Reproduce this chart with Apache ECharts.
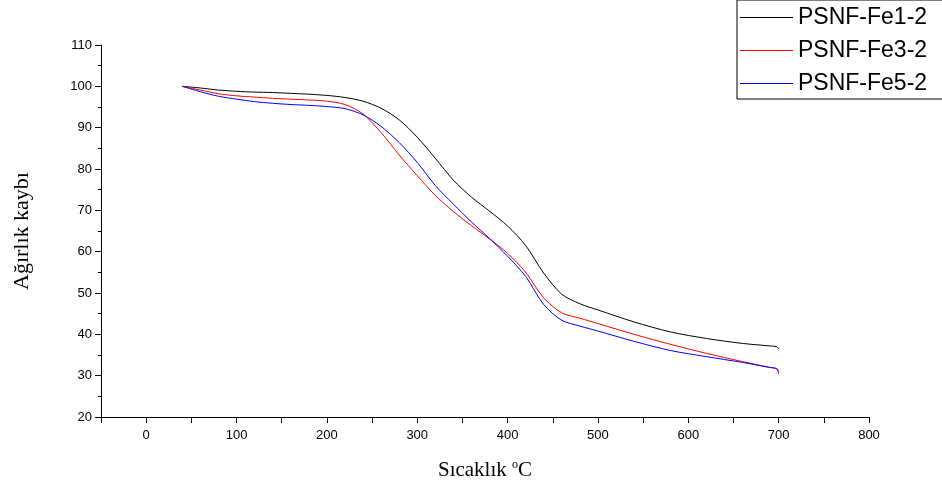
<!DOCTYPE html>
<html>
<head>
<meta charset="utf-8">
<script src="https://cdn.jsdelivr.net/npm/echarts@6/dist/echarts.min.js"></script>
<style>
html,body{margin:0;padding:0;background:#fff;}
#chart{width:942px;height:490px;}
</style>
</head>
<body>
<div id="chart"></div>
<script>
const temps = [40, 60, 80, 100, 120, 140, 160, 180, 200, 220, 240, 260, 280, 300, 320, 340, 360, 380, 400, 420, 440, 460, 480, 500, 540, 580, 620, 660, 690, 698, 700];
const fe1 = [100, 99.6, 99.1, 98.8, 98.6, 98.5, 98.3, 98.1, 97.8, 97.3, 96.4, 94.7, 91.9, 87.7, 82.6, 77.3, 73.2, 69.8, 66.2, 61.5, 54.8, 49.7, 47.4, 45.9, 43.0, 40.6, 39.0, 37.8, 37.2, 37.0, 36.5];
const fe3 = [100, 99.1, 98.2, 97.7, 97.4, 97.1, 96.9, 96.7, 96.4, 95.6, 93.3, 88.8, 83.4, 78.4, 73.6, 69.7, 66.3, 63.1, 59.6, 55.0, 48.8, 45.2, 43.9, 42.6, 40.0, 37.6, 35.4, 33.4, 32.0, 31.6, 30.4];
const fe5 = [100, 98.7, 97.6, 96.9, 96.3, 95.9, 95.6, 95.4, 95.1, 94.6, 93.1, 90.3, 86.4, 81.6, 76.0, 71.5, 67.2, 63.2, 58.9, 54.0, 47.2, 43.4, 42.0, 40.8, 38.3, 36.1, 34.6, 33.2, 32.0, 31.7, 31.0];
const seriesNames = ['PSNF-Fe1-2', 'PSNF-Fe3-2', 'PSNF-Fe5-2'];
const seriesColors = ['#000000', '#ff0000', '#0000ff'];
const xName = 'Sıcaklık';
const yName = 'Ağırlık kaybı';

const chart = echarts.init(document.getElementById('chart'), null, {renderer: 'canvas'});
const allY = [fe1, fe3, fe5];
const series = allY.map((arr, k) => ({
  name: seriesNames[k],
  type: 'line',
  data: temps.map((t, i) => [t, arr[i]]),
  symbol: 'none',
  showSymbol: false,
  smooth: 0.3,
  lineStyle: {color: seriesColors[k], width: 1},
  itemStyle: {color: seriesColors[k]},
  emphasis: {disabled: true},
  animation: false
}));

chart.setOption({
  animation: false,
  backgroundColor: '#ffffff',
  grid: {left: 101, right: 73, top: 45, bottom: 73, containLabel: false},
  legend: {
    orient: 'vertical',
    left: 737,
    top: 0,
    data: seriesNames.map((n, k) => ({name: n, icon: 'rect', itemStyle: {color: seriesColors[k]}})),
    itemWidth: 53,
    itemHeight: 1,
    itemGap: 10,
    padding: [6, 30, 4, 3],
    borderColor: '#000',
    borderWidth: 1,
    borderRadius: 0,
    textStyle: {fontFamily: 'Liberation Sans, Arial, sans-serif', fontSize: 23, color: '#000', lineHeight: 23}
  },
  xAxis: {
    type: 'value',
    min: -50,
    max: 800,
    interval: 50,
    name: '{a|' + xName + ' }{sup|o}{a|C}',
    nameLocation: 'middle',
    nameGap: 42,
    nameTextStyle: {
      rich: {
        a: {fontFamily: 'Liberation Serif, Times New Roman, serif', fontSize: 21, color: '#000'},
        sup: {fontFamily: 'Liberation Serif, Times New Roman, serif', fontSize: 12, color: '#000', verticalAlign: 'top', padding: [0, 0, 10, 0]}
      }
    },
    axisLine: {show: true, onZero: false, lineStyle: {color: '#000', width: 1}},
    axisTick: {show: true, inside: false, length: 6, lineStyle: {color: '#000'}},
    axisLabel: {
      show: true,
      margin: 12,
      fontFamily: 'Liberation Sans, Arial, sans-serif',
      fontSize: 13,
      color: '#000',
      formatter: v => (v % 100 === 0 ? String(v) : '')
    },
    splitLine: {show: false}
  },
  yAxis: {
    type: 'value',
    min: 20,
    max: 110,
    interval: 10,
    name: yName,
    nameLocation: 'middle',
    nameGap: 68,
    nameRotate: 90,
    nameTextStyle: {fontFamily: 'Liberation Serif, Times New Roman, serif', fontSize: 22, color: '#000'},
    axisLine: {show: true, onZero: false, lineStyle: {color: '#000', width: 1}},
    axisTick: {show: true, inside: false, length: 6, lineStyle: {color: '#000'}},
    minorTick: {show: true, splitNumber: 2, length: 3, lineStyle: {color: '#000'}},
    axisLabel: {
      margin: 9,
      fontFamily: 'Liberation Sans, Arial, sans-serif',
      fontSize: 13,
      color: '#000'
    },
    splitLine: {show: false}
  },
  series: series
});
</script>
</body>
</html>
